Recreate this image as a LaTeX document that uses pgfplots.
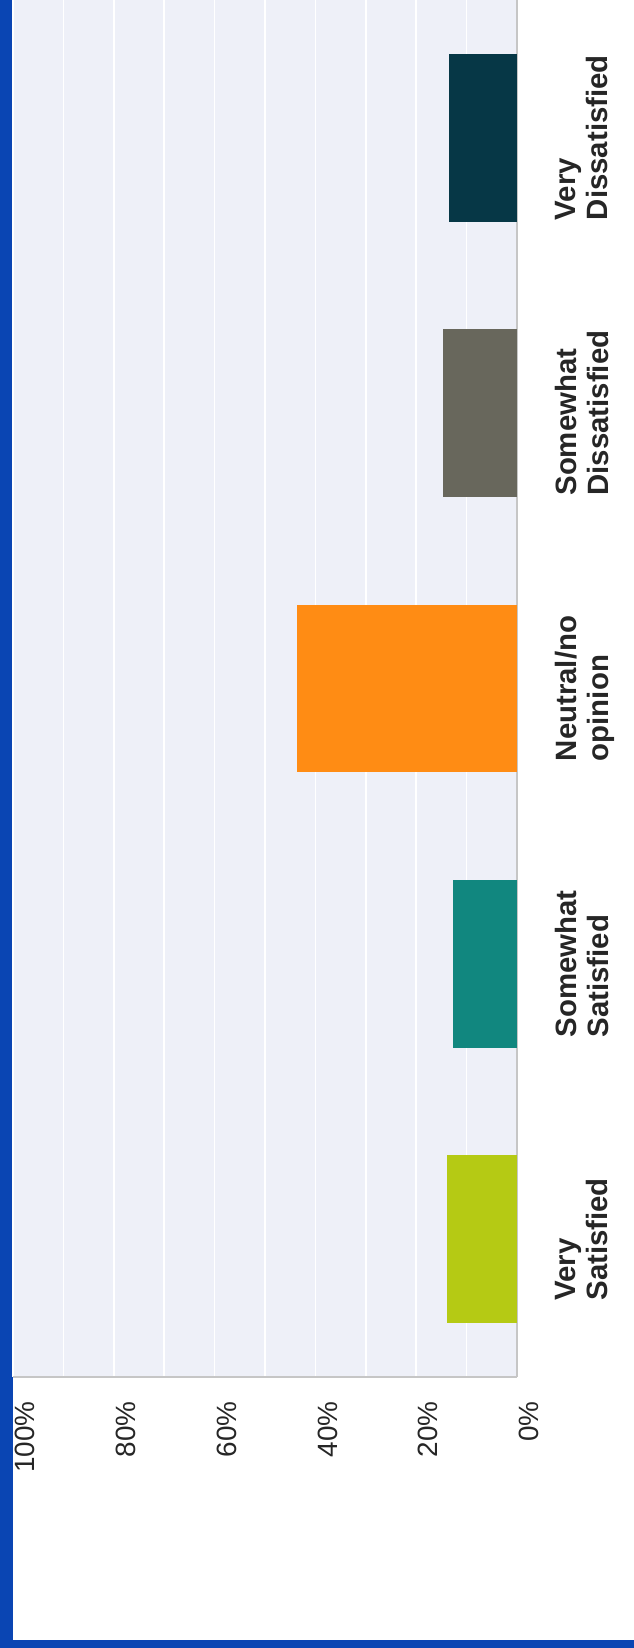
\documentclass[border=0pt]{standalone}
\usepackage{pgfplots}
\pgfplotsset{compat=1.18}
\usepackage{fontspec}
\setmainfont{Liberation Sans}
\definecolor{blueb}{HTML}{0A45B3}
\definecolor{bgc}{HTML}{EEF0F8}
\definecolor{cvs}{HTML}{B5CA14}
\definecolor{css}{HTML}{11877F}
\definecolor{cne}{HTML}{FF8C14}
\definecolor{csd}{HTML}{68675C}
\definecolor{cvd}{HTML}{063746}
\begin{document}
\begin{tikzpicture}
\path[use as bounding box] (0bp,0bp) rectangle (634bp,1648bp);
\fill[blueb] (0bp,0bp) rectangle (13bp,1648bp);
\fill[blueb] (0bp,0bp) rectangle (634bp,8bp);
\begin{axis}[
  at={(13bp,271bp)}, anchor=south west,
  scale only axis, width=504bp, height=1377bp,
  xbar, bar shift=0pt, bar width=0.61,
  x dir=reverse,
  xmin=0, xmax=100, ymin=-0.5, ymax=4.5,
  axis background/.style={fill=bgc},
  axis x line*=bottom, axis y line*=right,
  axis line style={draw=gray!45, line width=1.5bp, -},
  xtick={0,20,40,60,80,100},
  xticklabels={0\%,20\%,40\%,60\%,80\%,100\%},
  minor xtick={10,30,50,70,90},
  xmajorgrids, xminorgrids,
  major grid style={white, line width=1.6bp},
  minor grid style={white, line width=1.6bp},
  major tick length=0pt, minor tick length=0pt,
  xticklabel shift=22bp,
  xticklabel style={rotate=90, anchor=north east, inner sep=2bp,
    font=\fontsize{28}{30}\selectfont, text=black!85},
  ytick={0,1,2,3,4},
  yticklabels={{Very\\Satisfied},{Somewhat\\Satisfied},{Neutral/no\\opinion},{Somewhat\\Dissatisfied},{Very\\Dissatisfied}},
  yticklabel pos=right,
  yticklabel shift=38bp,
  yticklabel style={rotate=90, anchor=north, align=left, inner sep=0pt,
    font=\bfseries\fontsize{29.5}{32}\selectfont, text=black!85},
  clip=false,
]
\addplot[draw=none, fill=cvs] coordinates {(13.9,0)};
\addplot[draw=none, fill=css] coordinates {(12.7,1)};
\addplot[draw=none, fill=cne] coordinates {(43.7,2)};
\addplot[draw=none, fill=csd] coordinates {(14.7,3)};
\addplot[draw=none, fill=cvd] coordinates {(13.5,4)};
\end{axis}
\end{tikzpicture}
\end{document}
